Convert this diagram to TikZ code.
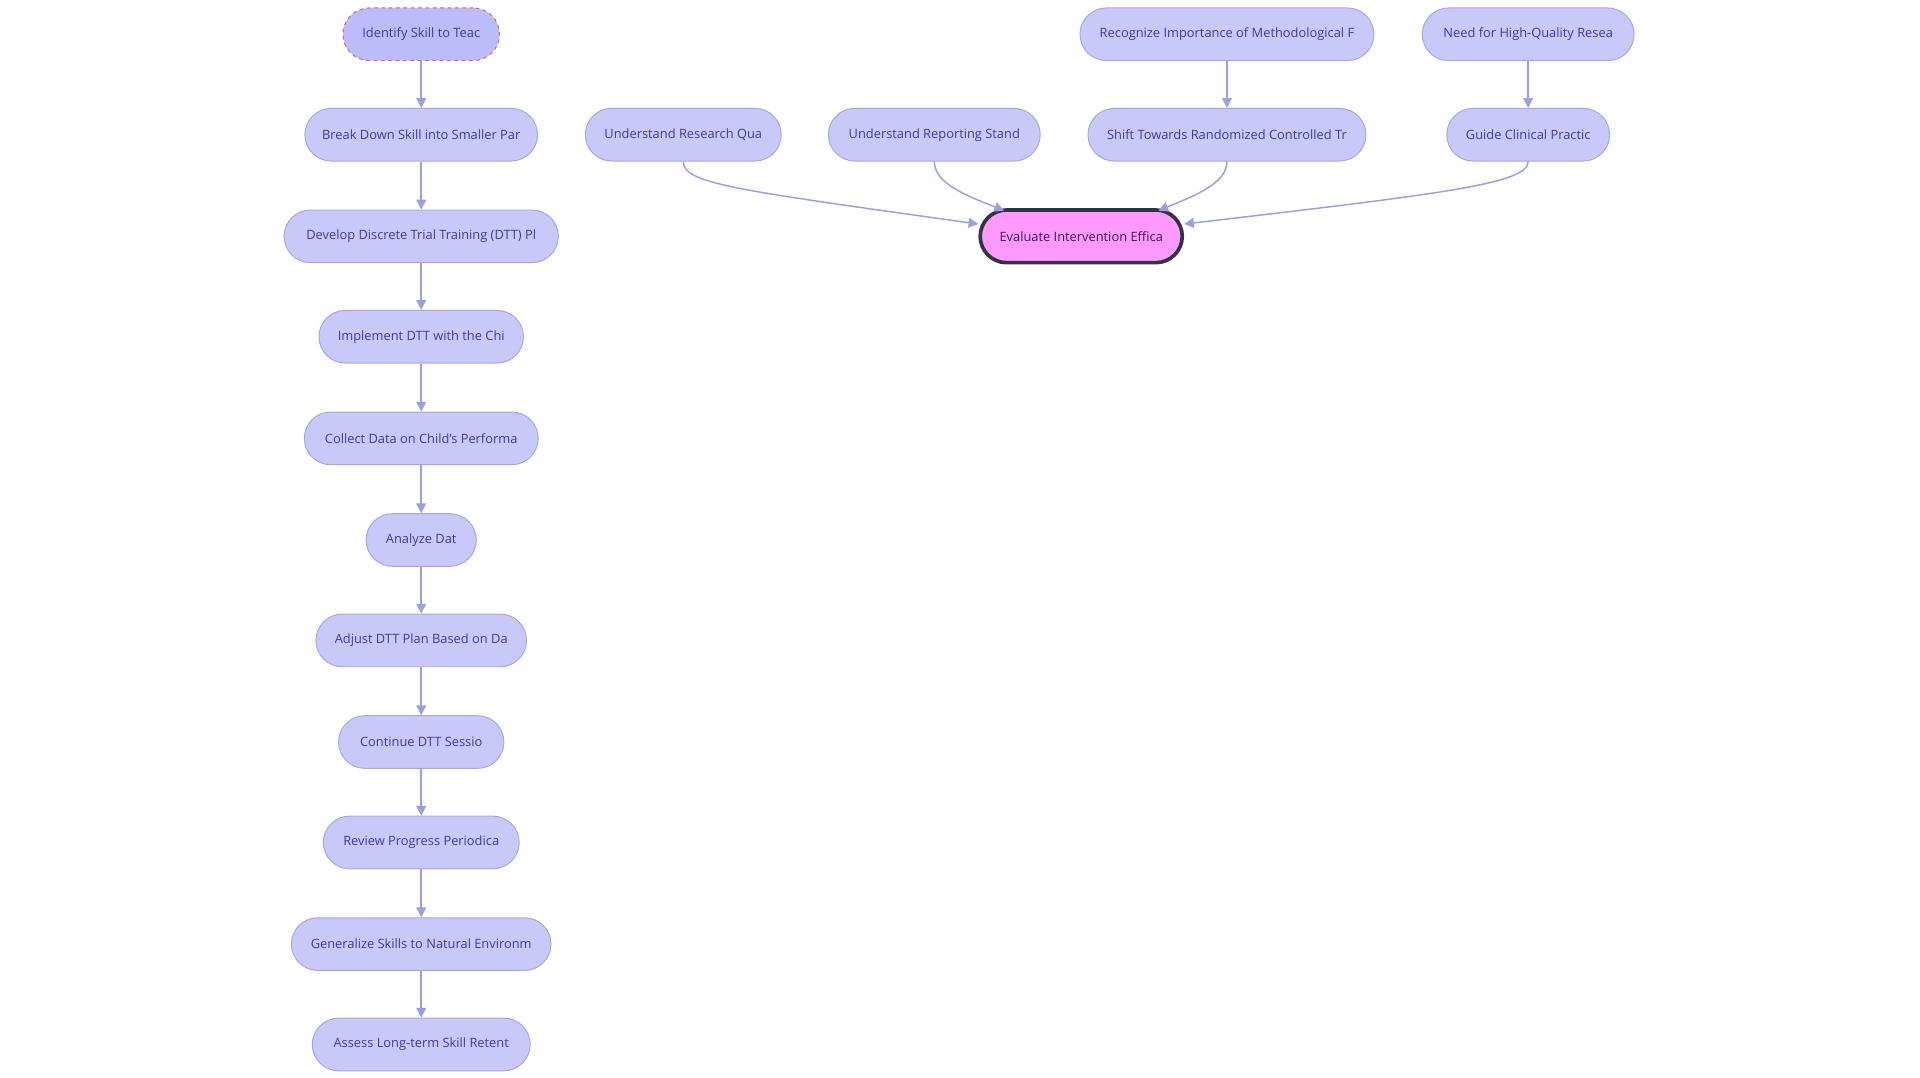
\documentclass[tikz,border=0pt]{standalone}
\usepackage{fontspec}
\setmainfont{Open Sans}
\usetikzlibrary{arrows.meta}
\definecolor{nfill}{HTML}{C8C9F8}
\definecolor{nline}{HTML}{A4A6EC}
\definecolor{ntext}{HTML}{3B3BA0}
\definecolor{eline}{HTML}{9A9EE6}
\tikzset{
 box/.style={rounded corners=21.5pt,draw=nline,fill=nfill,text=ntext,minimum height=43pt,inner sep=0pt,font=\fontsize{10.5}{12}\selectfont,line width=0.8pt},
 edge/.style={draw=eline,line width=1.2pt,-{Triangle[length=8pt,width=8pt]}}
}
\begin{document}
\begin{tikzpicture}[x=1pt,y=-1pt]
\useasboundingbox (0,0) rectangle (1568,880);
\node[box,minimum width=128pt,fill=nfill!85!blue!80!white,draw={rgb,255:red,224;green,96;blue,112},dashed] (a1) at (344,28) {Identify Skill to Teac};
\node[box,minimum width=190pt] (a2) at (344,110) {Break Down Skill into Smaller Par};
\node[box,minimum width=224pt] (a3) at (344,193) {Develop Discrete Trial Training (DTT) Pl};
\node[box,minimum width=167pt] (a4) at (344,275) {Implement DTT with the Chi};
\node[box,minimum width=191pt] (a5) at (344,358) {Collect Data on Child's Performa};
\node[box,minimum width=90pt] (a6) at (344,441) {Analyze Dat};
\node[box,minimum width=172pt] (a7) at (344,523) {Adjust DTT Plan Based on Da};
\node[box,minimum width=135pt] (a8) at (344,606) {Continue DTT Sessio};
\node[box,minimum width=160pt] (a9) at (344,688) {Review Progress Periodica};
\node[box,minimum width=212pt] (a10) at (344,771) {Generalize Skills to Natural Environm};
\node[box,minimum width=178pt] (a11) at (344,853) {Assess Long-term Skill Retent};
\foreach \i [count=\j from 2] in {1,...,10} \draw[edge] (a\i) -- (a\j);
\node[box,minimum width=240pt] (r1) at (1002,28) {Recognize Importance of Methodological F};
\node[box,minimum width=173pt] (n1) at (1248,28) {Need for High-Quality Resea};
\node[box,minimum width=160pt] (u1) at (558,110) {Understand Research Qua};
\node[box,minimum width=173pt] (u2) at (763,110) {Understand Reporting Stand};
\node[box,minimum width=227pt] (s1) at (1002,110) {Shift Towards Randomized Controlled Tr};
\node[box,minimum width=133pt] (g1) at (1248,110) {Guide Clinical Practic};
\node[box,minimum width=165pt,fill={rgb,255:red,255;green,153;blue,255},draw={rgb,255:red,51;green,51;blue,68},line width=3pt,text={rgb,255:red,50;green,30;blue,90}] (ev) at (883,193) {Evaluate Intervention Effica};
\draw[edge] (r1) -- (s1);
\draw[edge] (n1) -- (g1);
\draw[edge] (u1.south) .. controls (558,150) and (600,155) .. (ev.west |- 0,183);
\draw[edge] (u2.south) .. controls (763,150) and (790,160) .. (820,172);
\draw[edge] (s1.south) .. controls (1002,150) and (975,160) .. (946,172);
\draw[edge] (g1.south) .. controls (1248,150) and (1180,158) .. (ev.east |- 0,183);
\end{tikzpicture}
\end{document}
